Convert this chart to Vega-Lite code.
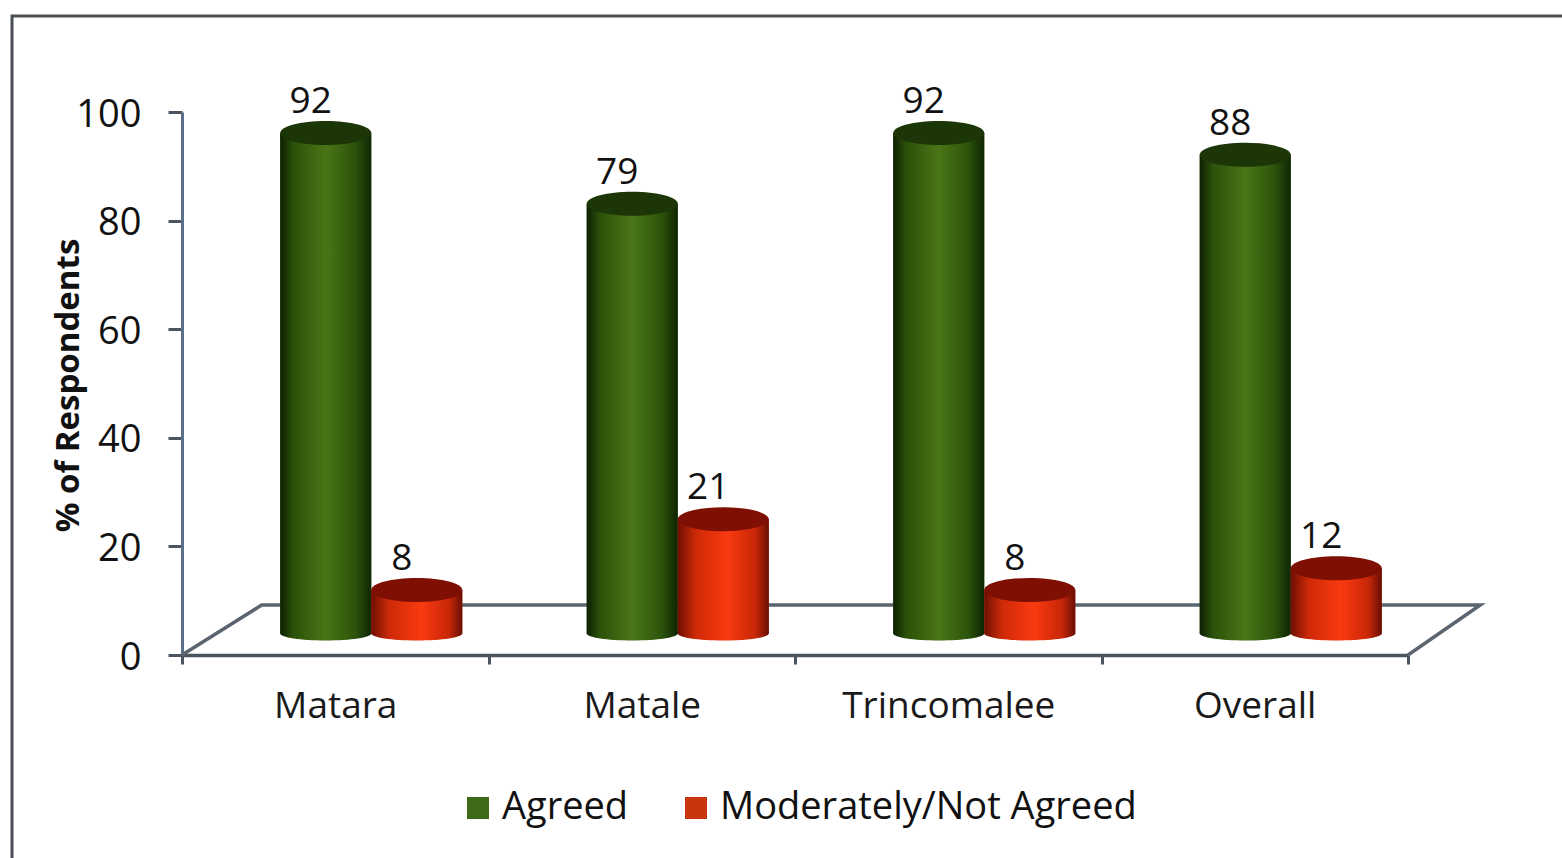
{
"$schema":"https://vega.github.io/schema/vega-lite/v6.json",
"width":1550,"height":842,
"autosize":{"type":"none"},
"padding":{"left":12,"top":16,"right":0,"bottom":0},
"background":"#ffffff",
"view":{"stroke":null},
"config":{"font":"Open Sans"},
"data":{"values":[
{"region":"Matara","series":"Agreed","value":92},
{"region":"Matara","series":"Moderately/Not Agreed","value":8},
{"region":"Matale","series":"Agreed","value":79},
{"region":"Matale","series":"Moderately/Not Agreed","value":21},
{"region":"Trincomalee","series":"Agreed","value":92},
{"region":"Trincomalee","series":"Moderately/Not Agreed","value":8},
{"region":"Overall","series":"Agreed","value":88},
{"region":"Overall","series":"Moderately/Not Agreed","value":12}
]},
"layer":[
{"data":{"values":[{"a":0,"b":0,"o":1},{"a":0,"b":1,"o":2},{"a":1,"b":1,"o":3}]},
 "mark":{"type":"line","color":"#4a4f55","strokeWidth":3},
 "encoding":{"x":{"field":"a","type":"quantitative","axis":null,"scale":{"domain":[0,1],"range":[0,1550]}},
  "y":{"field":"b","type":"quantitative","axis":null,"scale":{"domain":[0,1],"range":[842,0]}},
  "order":{"field":"o"}}},
{"data":{"values":[{"a":0,"b":0,"o":1},{"a":0.065,"b":9.2,"o":2},{"a":1.059,"b":9.2,"o":3},{"a":1,"b":0,"o":4}]},
 "mark":{"type":"line","color":"#5b6570","strokeWidth":3.5},
 "encoding":{"x":{"field":"a","type":"quantitative","axis":null,"scale":{"domain":[0,1],"range":[170,1396]}},
  "y":{"field":"b","type":"quantitative","axis":null,"scale":{"domain":[0,100],"range":[639,96]}},
  "order":{"field":"o"}}},
{"mark":{"type":"rule","strokeOpacity":0},
 "encoding":{
  "x":{"field":"region","type":"nominal","sort":null,
   "scale":{"domain":["Matara","Matale","Trincomalee","Overall"],"range":[170,1396],"paddingInner":0,"paddingOuter":0},
   "axis":{"title":null,"orient":"bottom","offset":-203,"labelAngle":0,"labelFont":"Open Sans","labelFontSize":37,"labelFontWeight":500,"labelLimit":400,"labelColor":"#1a1a1a","labelPadding":24,"tickBand":"extent","tickSize":9,"tickWidth":3,"tickColor":"#4a5560","domainColor":"#4a5560","domainWidth":3.5,"grid":false}},
  "y":{"datum":0,"type":"quantitative",
   "scale":{"domain":[0,100],"range":[639,96]},
   "axis":{"title":"% of Respondents","orient":"left","offset":-170,"values":[0,20,40,60,80,100],"labelFont":"Open Sans","labelFontSize":38,"labelFontWeight":500,"labelOffset":3,"labelColor":"#111111","labelPadding":27,"tickSize":14,"tickWidth":3,"tickColor":"#4a5560","domainColor":"#5b7088","domainWidth":3,"grid":false,"titleFont":"Open Sans","titleFontWeight":"bold","titleFontSize":33,"titleColor":"#111111","titleX":-114,"titleY":369,"titleAlign":"center","titleBaseline":"middle"}}}},
{"encoding":{
  "x":{"field":"region","type":"nominal","sort":null,"axis":null,
   "scale":{"domain":["Matara","Matale","Trincomalee","Overall"],"range":[206,1432],"paddingInner":0.406,"paddingOuter":0.203}},
  "xOffset":{"field":"series","type":"nominal","scale":{"domain":["Agreed","Moderately/Not Agreed"],"paddingInner":0,"paddingOuter":0}},
  "y":{"field":"value","type":"quantitative","axis":null,"scale":{"domain":[0,100],"range":[617.5,73.5]}}},
 "layer":[
 {"mark":{"type":"bar"},
  "encoding":{"color":{"field":"series","type":"nominal","title":null,
    "scale":{"domain":["Agreed","Moderately/Not Agreed"],"range":["#3f6a17","#c8350e"]},
    "legend":{"orient":"none","legendX":447,"legendY":773,"direction":"horizontal","columns":2,"symbolType":"square","symbolSize":484,"symbolStrokeWidth":0,"labelFont":"Open Sans","labelFontSize":38,"labelFontWeight":500,"labelColor":"#111111","labelLimit":500,"columnPadding":48,"labelOffset":5}}}},
 {"transform":[{"filter":"datum.series==='Agreed'"}],
  "mark":{"type":"bar","fill":{"x1":0,"x2":1,"y1":0,"y2":0,"gradient":"linear","stops":[{"offset":0,"color":"#0c1f03"},{"offset":0.14,"color":"#2b5009"},{"offset":0.5,"color":"#4a7516"},{"offset":0.82,"color":"#2d540b"},{"offset":1,"color":"#0f2504"}]}}},
 {"transform":[{"filter":"datum.series!=='Agreed'"}],
  "mark":{"type":"bar","fill":{"x1":0,"x2":1,"y1":0,"y2":0,"gradient":"linear","stops":[{"offset":0,"color":"#6f0f02"},{"offset":0.2,"color":"#cf2a08"},{"offset":0.55,"color":"#f93a10"},{"offset":0.85,"color":"#c92708"},{"offset":1,"color":"#6a0e02"}]}}},
 {"transform":[{"filter":"datum.series==='Agreed'"}],
  "mark":{"type":"point","filled":true,"opacity":1,"size":8281,"shape":"M-1,0A1,0.154,0,1,1,1,0A1,0.154,0,1,1,-1,0Z","fill":{"x1":0,"x2":1,"y1":0,"y2":0,"gradient":"linear","stops":[{"offset":0,"color":"#0c1f03"},{"offset":0.14,"color":"#2b5009"},{"offset":0.5,"color":"#4a7516"},{"offset":0.82,"color":"#2d540b"},{"offset":1,"color":"#0f2504"}]}},
  "encoding":{"y":{"datum":0,"type":"quantitative"}}},
 {"transform":[{"filter":"datum.series!=='Agreed'"}],
  "mark":{"type":"point","filled":true,"opacity":1,"size":8281,"shape":"M-1,0A1,0.154,0,1,1,1,0A1,0.154,0,1,1,-1,0Z","fill":{"x1":0,"x2":1,"y1":0,"y2":0,"gradient":"linear","stops":[{"offset":0,"color":"#6f0f02"},{"offset":0.2,"color":"#cf2a08"},{"offset":0.55,"color":"#f93a10"},{"offset":0.85,"color":"#c92708"},{"offset":1,"color":"#6a0e02"}]}},
  "encoding":{"y":{"datum":0,"type":"quantitative"}}},
 {"transform":[{"filter":"datum.series==='Agreed'"}],
  "mark":{"type":"point","filled":true,"opacity":1,"size":8281,"color":"#1c3607","shape":"M-1,0A1,0.264,0,1,1,1,0A1,0.264,0,1,1,-1,0Z"}},
 {"transform":[{"filter":"datum.series!=='Agreed'"}],
  "mark":{"type":"point","filled":true,"opacity":1,"size":8281,"color":"#7e0f02","shape":"M-1,0A1,0.264,0,1,1,1,0A1,0.264,0,1,1,-1,0Z"}},
 {"mark":{"type":"text","font":"Open Sans","fontSize":37,"fontWeight":500,"color":"#111111","dx":-15,"dy":-31,"baseline":"middle"},
  "encoding":{"text":{"field":"value","type":"quantitative"}}}
 ]}
],
"resolve":{"scale":{"x":"independent","y":"independent"}}
}
